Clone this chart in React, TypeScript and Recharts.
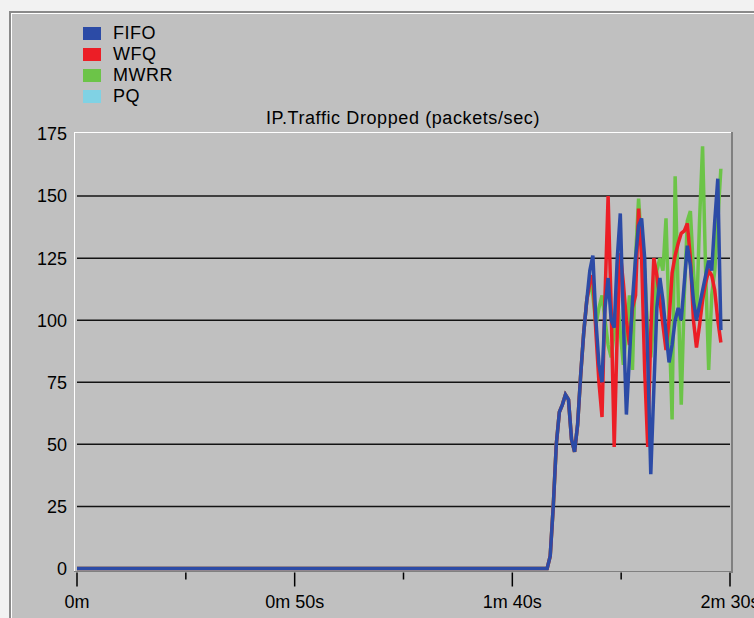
import React from "react";
import { LineChart, Line, XAxis, YAxis, CartesianGrid } from "recharts";

const times = [0, 107, 108.0, 108.7, 109.4, 110.1, 110.8, 111.5, 112.2, 112.9, 113.6, 114.3, 115.0, 115.7, 116.4, 117.1, 117.8, 118.5, 119.2, 119.9, 120.6, 121.3, 122.0, 122.7, 123.4, 124.1, 124.8, 125.5, 126.2, 126.9, 127.6, 128.3, 129.0, 129.7, 130.4, 131.1, 131.8, 132.5, 133.2, 133.9, 134.6, 135.3, 136.0, 136.7, 137.4, 138.1, 138.8, 139.5, 140.2, 140.9, 141.6, 142.3, 143.0, 143.7, 144.4, 145.1, 145.8, 146.5, 147.2, 147.9];

const fifo = [0, 0, 0, 5, 25, 50, 63, 66, 70, 68, 52, 47, 58, 78, 95, 108, 120, 126, 100, 82, 75, 105, 117, 100, 97, 125, 143, 100, 62, 85, 108, 125, 138, 141, 125, 85, 38, 72, 105, 117, 108, 95, 83, 90, 100, 105, 100, 115, 130, 122, 108, 100, 106, 112, 118, 124, 120, 140, 157, 96];

const wfq = [0, 0, 0, 5, 25, 50, 63, 66, 70, 68, 52, 47, 58, 78, 95, 108, 115, 118, 95, 75, 61, 110, 150, 105, 49, 95, 127, 115, 100, 90, 105, 110, 145, 125, 80, 49, 95, 125, 118, 108, 98, 88, 100, 119, 126, 131, 135, 136, 139, 125, 100, 89, 98, 108, 115, 120, 118, 112, 100, 91];

const mwrr = [0, 0, 0, 5, 25, 50, 63, 66, 70, 68, 52, 47, 58, 78, 95, 108, 115, 110, 98, 105, 110, 100, 90, 85, 95, 110, 95, 82, 95, 110, 80, 125, 149, 130, 120, 95, 85, 100, 120, 125, 120, 141, 100, 60, 158, 110, 66, 110, 140, 144, 120, 100, 140, 170, 120, 80, 110, 120, 140, 161];

const pq = [0, 0, 0];

const seriesNames = ["FIFO", "WFQ", "MWRR", "PQ"];
const seriesColors = ["#2c4ba6", "#ec1e26", "#6cc448", "#80d2e4"];

const yTicks = [0, 25, 50, 75, 100, 125, 150, 175];
const gridValues = [25, 50, 75, 100, 125, 150];
const xTicks = [0, 25, 50, 75, 100, 125, 150];
const xMajorTicks = [0, 50, 100, 150];
const xTickLabels = ["0m", "0m 50s", "1m 40s", "2m 30s"];

const chartTitle = "IP.Traffic Dropped (packets/sec)";

const data = times.map((t, i) => ({
  t,
  FIFO: fifo[i] ?? null,
  WFQ: wfq[i] ?? null,
  MWRR: mwrr[i] ?? null,
  PQ: pq[i] ?? null,
}));

const FONT = "'Liberation Sans', Arial, sans-serif";

const XTick = (props: any) => {
  const { x, y, payload } = props;
  const idx = xMajorTicks.indexOf(payload.value);
  const major = idx >= 0;
  return (
    <g>
      <line x1={x} x2={x} y1={y + 4} y2={y + (major ? 18 : 11)} stroke="#000" strokeWidth={1.5} />
      {major && (
        <text x={x} y={y + 39} textAnchor="middle" fontSize={18} fill="#000" fontFamily={FONT}>
          {xTickLabels[idx]}
        </text>
      )}
    </g>
  );
};

export default function App() {
  return (
    <div style={{ position: "absolute", left: 0, top: 0, width: 754, height: 618, background: "#f2f2f2", overflow: "hidden" }}>
      <div
        style={{
          position: "absolute",
          left: 9,
          top: 11,
          width: 760,
          height: 620,
          background: "#c0c0c0",
          borderTop: "2px solid #8a8a8a",
          borderLeft: "2px solid #8a8a8a",
          boxShadow: "inset 1px 1px 0 #ffffff",
        }}
      />
      {/* legend */}
      <div style={{ position: "absolute", left: 83, top: 23, fontFamily: FONT, fontSize: 18, color: "#000" }}>
        {seriesNames.map((n, i) => (
          <div key={n} style={{ display: "flex", alignItems: "center", height: 21 }}>
            <div style={{ width: 18, height: 13, background: seriesColors[i], marginRight: 12 }} />
            <span style={{ letterSpacing: 0.5 }}>{n}</span>
          </div>
        ))}
      </div>
      <div
        style={{
          position: "absolute",
          left: 0,
          width: 806,
          top: 108,
          textAlign: "center",
          fontFamily: FONT,
          fontSize: 18,
          letterSpacing: 0.6,
          color: "#000",
        }}
      >
        {chartTitle}
      </div>
      <div style={{ position: "absolute", left: 0, top: 0 }}>
        <LineChart width={754} height={618} data={data} margin={{ top: 134, right: 24, bottom: 19.5, left: 17 }}>
          <CartesianGrid vertical={false} horizontalValues={gridValues} stroke="#000" strokeWidth={1.5} strokeOpacity={0.9} />
          <XAxis
            dataKey="t"
            type="number"
            domain={[0, 150]}
            ticks={xTicks}
            axisLine={false}
            tickLine={false}
            tickSize={0}
            tickMargin={0}
            height={30}
            tick={<XTick />}
            interval={0}
          />
          <YAxis
            type="number"
            domain={[0, 175]}
            ticks={yTicks}
            axisLine={false}
            tickLine={false}
            tickSize={0}
            tickMargin={10}
            width={60}
            interval={0}
            tick={{ fontSize: 18, fill: "#000", fontFamily: FONT }}
          />
          <Line dataKey="PQ" stroke={seriesColors[3]} strokeWidth={3.5} dot={false} isAnimationActive={false} connectNulls={false} />
          <Line dataKey="MWRR" stroke={seriesColors[2]} strokeWidth={3.5} dot={false} isAnimationActive={false} />
          <Line dataKey="WFQ" stroke={seriesColors[1]} strokeWidth={3.5} dot={false} isAnimationActive={false} />
          <Line dataKey="FIFO" stroke={seriesColors[0]} strokeWidth={3.5} dot={false} isAnimationActive={false} />
        </LineChart>
      </div>
      {/* plot frame */}
      <div style={{ position: "absolute", left: 74, top: 132, width: 658, height: 1, background: "#ffffff" }} />
      <div style={{ position: "absolute", left: 74, top: 132, width: 1, height: 440, background: "#ffffff" }} />
      <div style={{ position: "absolute", left: 731, top: 132, width: 2, height: 441, background: "#808080" }} />
      <div style={{ position: "absolute", left: 74, top: 571, width: 659, height: 1, background: "#808080" }} />
    </div>
  );
}
